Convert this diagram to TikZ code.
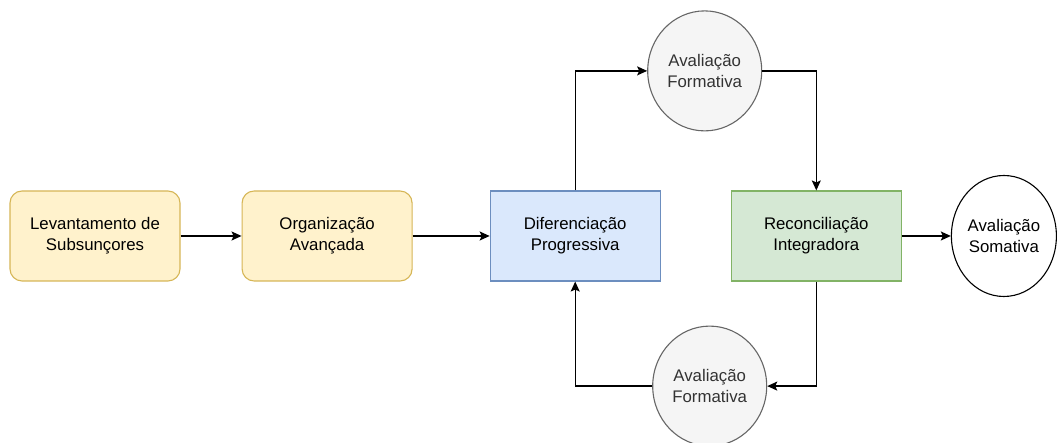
\documentclass[tikz,border=0pt]{standalone}
\usepackage{fontspec}
\setmainfont{Liberation Sans}
\usetikzlibrary{arrows.meta,positioning,shapes.geometric}

\definecolor{amarelo}{HTML}{FFF2CC}
\definecolor{amareloborda}{HTML}{D6B656}
\definecolor{azul}{HTML}{DAE8FC}
\definecolor{azulborda}{HTML}{6C8EBF}
\definecolor{verde}{HTML}{D5E8D4}
\definecolor{verdeborda}{HTML}{82B366}
\definecolor{cinza}{HTML}{F5F5F5}
\definecolor{cinzaborda}{HTML}{666666}
\definecolor{cinzatexto}{HTML}{333333}

\tikzset{
	etapa/.style={rectangle, draw, line width=1.1pt, minimum width=170pt, minimum height=90pt,
		align=center, font=\fontsize{16.8}{21}\selectfont},
	avaliacao/.style={ellipse, draw, line width=1.1pt, inner sep=0pt, minimum width=114pt,
		minimum height=120pt, align=center, font=\fontsize{16.8}{21}\selectfont},
	formativa/.style={avaliacao, fill=cinza, draw=cinzaborda, text=cinzatexto}
}

\begin{document}
\begin{tikzpicture}[->,>={Stealth[length=10pt,width=9pt,inset=2pt]},line width=1.3pt,node distance=60pt]
			\useasboundingbox (0,0) rectangle (1060pt,443pt);

			\node	[etapa, fill=amarelo, draw=amareloborda, rounded corners=12pt]	(lev)	at (95pt,207pt)	{Levantamento de\\Subsunçores};
			\node	[etapa, fill=amarelo, draw=amareloborda, rounded corners=12pt]	(org)	[right=61pt of lev]	{Organização\\Avançada};
			\node	[etapa, fill=azul, draw=azulborda]	(dif)	[right=77pt of org]	{Diferenciação\\Progressiva};
			\node	[etapa, fill=verde, draw=verdeborda]	(rec)	[right=70pt of dif]	{Reconciliação\\Integradora};
			\node	[avaliacao, minimum width=105pt, minimum height=121pt]	(som)	[right=49pt of rec]	{Avaliação\\Somativa};
			\node	[formativa]	(fa)	[above=59pt of dif, xshift=129.5pt]	{Avaliação\\Formativa};
			\node	[formativa]	(fb)	[below=44pt of dif, xshift=134.5pt]	{Avaliação\\Formativa};

			\path
				(lev)	edge	(org)
				(org)	edge	(dif)
				(rec)	edge	(som)
			;
			\draw	(dif)	|-	(fa);
			\draw	(fa)	-|	(rec);
			\draw	(rec)	|-	(fb);
			\draw	(fb)	-|	(dif);
		\end{tikzpicture}
\end{document}
